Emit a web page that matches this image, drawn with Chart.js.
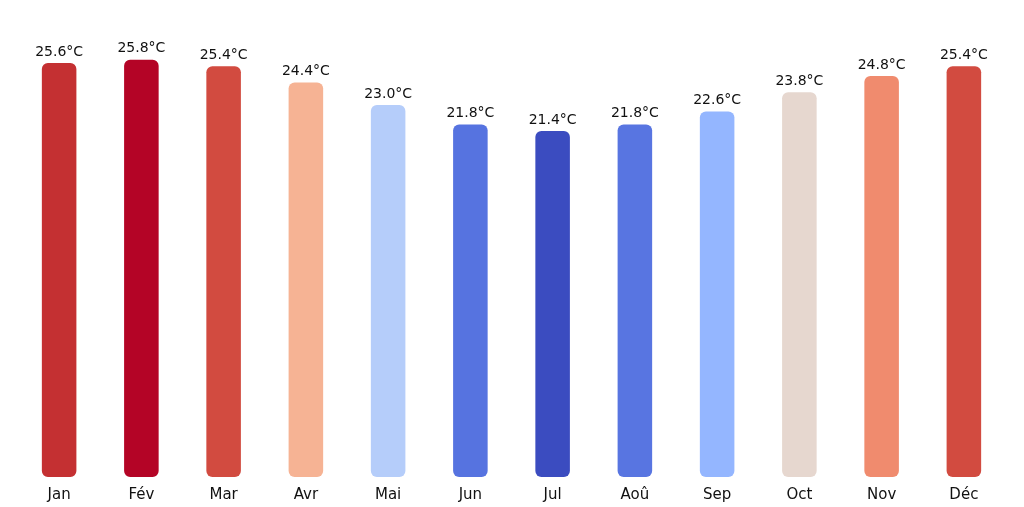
<!DOCTYPE html>
<html><head><meta charset="utf-8">
<script src="https://cdn.jsdelivr.net/npm/chart.js@4"></script>
<style>html,body{margin:0;padding:0;background:#fff}#wrap{width:1024px;height:507px}</style>
</head><body><div id="wrap"><canvas id="c"></canvas></div>
<script>
const months = ['Jan','Fév','Mar','Avr','Mai','Jun','Jul','Aoû','Sep','Oct','Nov','Déc'];
const temps = [25.6,25.8,25.4,24.4,23.0,21.8,21.4,21.8,22.6,23.8,24.8,25.4];
const colors = ['#c43032','#b40426','#d24b40','#f6b394','#b5cdfa','#5673e0','#3b4cc0','#5875e1','#94b6ff','#e6d7cf','#f08b6e','#d24b40'];

// value labels above each bar
const valueLabels = {
    id: 'valueLabels',
    afterDatasetsDraw(chart) {
        const ctx = chart.ctx;
        ctx.save();
        ctx.font = '14px "DejaVu Sans"';
        ctx.fillStyle = '#111';
        ctx.textAlign = 'center';
        ctx.textBaseline = 'bottom';
        chart.getDatasetMeta(0).data.forEach((bar, i) => {
            ctx.fillText(temps[i].toFixed(1) + '°C', bar.x, bar.y - 4);
        });
        ctx.restore();
    }
};

new Chart(document.getElementById('c'), {
    type: 'bar',
    data: { labels: months, datasets: [{ data: temps, backgroundColor: colors, borderRadius: 6, borderSkipped: false, barPercentage: 0.42, categoryPercentage: 1 }] },
    options: {
        responsive: true, maintainAspectRatio: false, animation: false,
        layout: { padding: { left: 18, right: 19, top: 0, bottom: 2 } },
        plugins: { legend: { display: false }, tooltip: { enabled: false } },
        scales: {
            x: { grid: { display: false }, border: { display: false },
                 ticks: { color: '#111', font: { family: 'DejaVu Sans', size: 15 }, padding: 1 } },
            y: { display: false, min: 0, max: 29.5 }
        }
    },
    plugins: [valueLabels]
});
</script></body></html>
